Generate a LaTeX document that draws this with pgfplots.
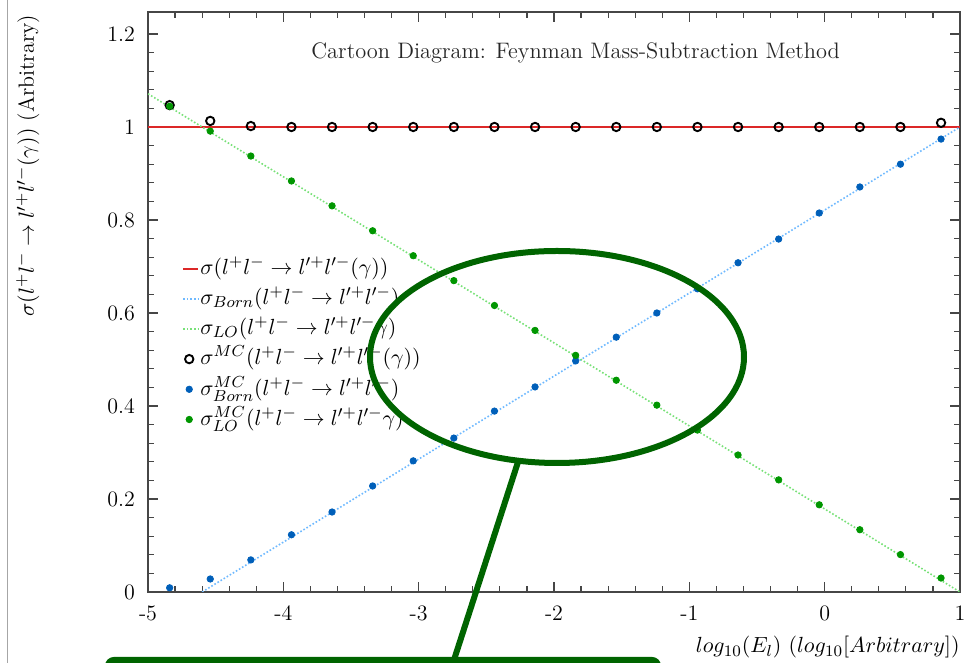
\documentclass[border=0pt]{standalone}
\usepackage{pgfplots}
\pgfplotsset{compat=1.18}
\definecolor{rootred}{RGB}{220,40,40}
\definecolor{bornline}{RGB}{110,185,255}
\definecolor{loline}{RGB}{120,225,120}
\definecolor{bornpt}{RGB}{0,95,185}
\definecolor{lopt}{RGB}{0,150,0}
\definecolor{ovgreen}{RGB}{0,100,0}
\definecolor{axgray}{RGB}{70,70,70}

\pgfplotsset{
  lineleg/.style={legend image code/.code={\draw[##1] (0pt,0pt) -- (7.5pt,0pt);}},
  markleg/.style={legend image code/.code={\draw[##1] plot coordinates {(3pt,0pt)};}},
}

\pgfplotstableread{
x y
-4.84 0.009
-4.54 0.028
-4.24 0.069
-3.94 0.123
-3.64 0.172
-3.34 0.228
-3.04 0.282
-2.74 0.331
-2.44 0.389
-2.14 0.441
-1.84 0.497
-1.54 0.548
-1.24 0.600
-0.94 0.652
-0.64 0.708
-0.34 0.759
-0.04 0.815
0.26 0.871
0.56 0.920
0.86 0.974
}\bornmc

\pgfplotstableread{
x y
-4.84 1.0446
-4.54 0.9911
-4.24 0.9375
-3.94 0.8839
-3.64 0.8304
-3.34 0.7768
-3.04 0.7232
-2.74 0.6696
-2.44 0.6161
-2.14 0.5625
-1.84 0.5089
-1.54 0.4554
-1.24 0.4018
-0.94 0.3482
-0.64 0.2946
-0.34 0.2411
-0.04 0.1875
0.26 0.1339
0.56 0.0804
0.86 0.0300
}\lomc

\pgfplotstableread{
x y
-4.84 1.047
-4.54 1.013
-4.24 1.002
-3.94 1.000
-3.64 1.000
-3.34 1.000
-3.04 1.000
-2.74 1.000
-2.44 1.000
-2.14 1.000
-1.84 1.000
-1.54 1.000
-1.24 1.000
-0.94 1.000
-0.64 1.000
-0.34 1.000
-0.04 1.000
0.26 1.000
0.56 1.000
0.86 1.009
}\totmc

\begin{document}
\begin{tikzpicture}
\useasboundingbox (0,0) rectangle (485.5pt,331.5pt);
\begin{scope}
\clip (0,0) rectangle (485.5pt,331.5pt);
\begin{axis}[
  at={(74pt,35.5pt)}, anchor=south west,
  scale only axis, width=406pt, height=290pt,
  xmin=-5, xmax=1, ymin=0, ymax=1.2473,
  xtick={-5,-4,-3,-2,-1,0,1},
  xticklabels={-5,-4,-3,-2,-1,0,1},
  ytick={0,0.2,0.4,0.6,0.8,1,1.2},
  yticklabels={0,0.2,0.4,0.6,0.8,1,1.2},
  minor x tick num=4, minor y tick num=4,
  tick align=inside, tick pos=both,
  major tick length=5pt, minor tick length=3pt,
  axis line style={axgray, line width=0.75pt},
  every tick/.style={axgray, line width=0.6pt},
  tick label style={font=\fontsize{11}{13}\selectfont},
  yticklabel style={xshift=-3pt},
  xticklabel style={yshift=-3.5pt},
  xlabel={$log_{10}(E_l)$ $(log_{10}[Arbitrary])$},
  x label style={at={(axis description cs:1,0)}, anchor=north east, inner sep=0pt, yshift=-22pt, font=\fontsize{11}{13}\selectfont},
  ylabel={$\sigma(l^+l^-\rightarrow l'^+l'^-(\gamma))$ (Arbitrary)},
  y label style={at={(axis description cs:-0.148,0.996)}, anchor=east, inner sep=0pt, font=\fontsize{11}{13}\selectfont},
  legend style={at={(axis cs:-4.75,0.7290)}, anchor=north west, draw=none, fill=none,
    inner sep=0pt, row sep=0pt, font=\fontsize{11}{13}\selectfont,
    nodes={inner sep=0.6pt, text height=9.8pt, text depth=4.1pt}},
  legend cell align=left,
  clip=true,
]
\addplot[rootred, line width=1pt, lineleg] coordinates {(-5,1) (1,1)};
\addlegendentry{$\sigma(l^+l^-\rightarrow l'^+l'^-(\gamma))$}
\addplot[bornline, densely dotted, line width=0.8pt, lineleg] coordinates {(-4.6,0) (1,1)};
\addlegendentry{$\sigma_{Born}(l^+l^-\rightarrow l'^+l'^-)$}
\addplot[loline, densely dotted, line width=0.8pt, lineleg] coordinates {(-5,1.0714) (1,0)};
\addlegendentry{$\sigma_{LO}(l^+l^-\rightarrow l'^+l'^-\gamma)$}
\addplot[only marks, mark=o, mark size=2.1pt, black, line width=0.95pt, markleg] table {\totmc};
\addlegendentry{$\sigma^{MC}(l^+l^-\rightarrow l'^+l'^-(\gamma))$}
\addplot[only marks, mark=*, mark size=1.6pt, bornpt, markleg] table {\bornmc};
\addlegendentry{$\sigma^{MC}_{Born}(l^+l^-\rightarrow l'^+l'^-)$}
\addplot[only marks, mark=*, mark size=1.6pt, lopt, markleg] table {\lomc};
\addlegendentry{$\sigma^{MC}_{LO}(l^+l^-\rightarrow l'^+l'^-\gamma)$}
\node[font=\fontsize{11.2}{13}\selectfont, text=black!85] at (axis cs:-1.84,1.159) {Cartoon Diagram: Feynman Mass-Subtraction Method};
\end{axis}
\begin{scope}[x=0.5pt, y=-0.5pt, shift={(0pt,331.5pt)}]
\draw[ovgreen, line width=3pt] (557,357) ellipse [x radius=187, y radius=106];
\draw[ovgreen, line width=3pt] (518,462) -- (453,663);
\draw[ovgreen, line width=3pt, rounded corners=3pt] (108,660) rectangle (658,720);
\draw[gray!70, line width=0.5pt] (7,0) -- (7,663);
\end{scope}
\end{scope}
\end{tikzpicture}
\end{document}
